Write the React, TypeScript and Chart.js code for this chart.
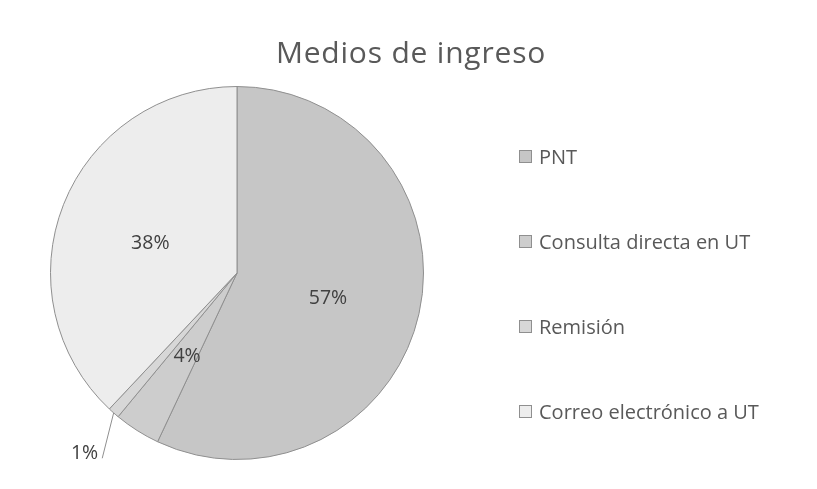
import React, { useEffect, useRef } from "react";
import { Chart, registerables } from "chart.js";

Chart.register(...registerables);

const categories = ["PNT", "Consulta directa en UT", "Remisión", "Correo electrónico a UT"];
const values = [57, 4, 1, 38];
const colors = ["#c6c6c6", "#cdcdcd", "#d7d7d7", "#ededed"];
const titleText = "Medios de ingreso";

const FONT = "'Open Sans', Lato, sans-serif";
const BORDER = "#8f8f8f";

const pctLabels = {
  id: "pctLabels",
  afterDatasetsDraw(chart: any) {
    const ctx = chart.ctx;
    const meta = chart.getDatasetMeta(0);
    const data = chart.data.datasets[0].data as number[];
    const total = data.reduce((a, b) => a + b, 0);
    ctx.save();
    ctx.font = `19.5px ${FONT}`;
    ctx.fillStyle = "#404040";
    ctx.textAlign = "center";
    ctx.textBaseline = "middle";
    meta.data.forEach((arc: any, i: number) => {
      const { x, y, startAngle, endAngle, outerRadius } = arc.getProps(
        ["x", "y", "startAngle", "endAngle", "outerRadius"],
        true
      );
      const frac = data[i] / total;
      const text = Math.round(frac * 100) + "%";
      const mid = (startAngle + endAngle) / 2;
      if (frac < 0.02) {
        const ex = x + Math.cos(mid) * outerRadius;
        const ey = y + Math.sin(mid) * outerRadius;
        const lx = x + Math.cos(mid) * outerRadius * 1.26 + 3;
        const ly = y + Math.sin(mid) * outerRadius * 1.26 + 4;
        const w = ctx.measureText(text).width;
        ctx.strokeStyle = BORDER;
        ctx.lineWidth = 1;
        ctx.beginPath();
        ctx.moveTo(ex, ey);
        ctx.lineTo(lx + w / 2 + 4, ly + 5);
        ctx.stroke();
        ctx.fillText(text, lx, ly);
      } else {
        const p = arc.tooltipPosition(true);
        ctx.fillText(text, p.x, p.y + 5);
      }
    });
    ctx.restore();
  },
};

export default function App() {
  const ref = useRef<HTMLCanvasElement | null>(null);
  useEffect(() => {
    if (!ref.current) return;
    const chart = new Chart(ref.current, {
      type: "pie",
      data: {
        labels: categories,
        datasets: [
          {
            data: values,
            backgroundColor: colors,
            borderColor: BORDER,
            borderWidth: 1,
          },
        ],
      },
      options: {
        animation: false,
        responsive: true,
        maintainAspectRatio: false,
        layout: { padding: { left: 50, right: 393, top: 86, bottom: 29 } },
        plugins: {
          legend: { display: false },
          tooltip: { enabled: false },
          title: { display: false },
        },
      },
      plugins: [pctLabels],
    });
    return () => chart.destroy();
  }, []);

  return (
    <div style={{ position: "fixed", left: 0, top: 0, width: 817, height: 489, background: "#fff" }}>
      <canvas ref={ref} />
      <div
        style={{
          position: "absolute",
          left: 0,
          width: 822,
          top: 32,
          textAlign: "center",
          fontFamily: FONT,
          fontSize: 30,
          letterSpacing: 0.8,
          lineHeight: "40px",
          color: "#595959",
        }}
      >
        {titleText}
      </div>
      <div
        style={{
          position: "absolute",
          left: 519,
          top: 114,
          display: "flex",
          flexDirection: "column",
          fontFamily: FONT,
          fontSize: 20,
          color: "#595959",
        }}
      >
        {categories.map((c, i) => (
          <div key={c} style={{ height: 85, display: "flex", alignItems: "center" }}>
            <span
              style={{
                display: "inline-block",
                width: 11,
                height: 11,
                background: colors[i],
                border: `1px solid ${BORDER}`,
                marginRight: 7,
              }}
            />
            <span>{c}</span>
          </div>
        ))}
      </div>
    </div>
  );
}
